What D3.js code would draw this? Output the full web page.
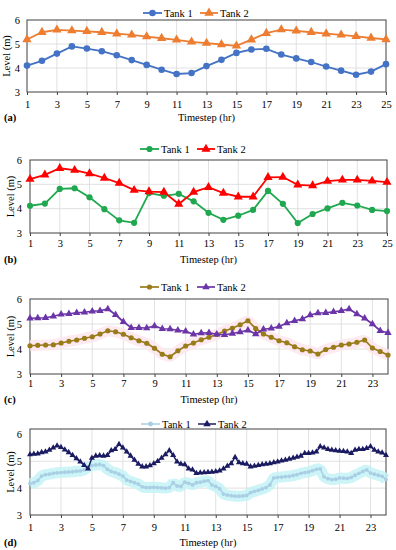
<!DOCTYPE html>
<html>
<head>
<meta charset="utf-8">
<script src="https://cdn.jsdelivr.net/npm/d3@7"></script>
<style>
  html, body { margin: 0; padding: 0; background: #fff; }
  svg { display: block; font-family: "Liberation Serif", "Times New Roman", serif; }
</style>
</head>
<body>
<div id="chart"></div>
<script>
// Tank levels (m).
// (a),(b): hourly, timestep 1..25; (c): half-hourly 1..24; (d): quarter-hourly 1..24.
var seriesNames = ['Tank 1', 'Tank 2'];

var tank1A = [4.10, 4.30, 4.60, 4.90, 4.81, 4.70, 4.53, 4.33, 4.13, 3.93, 3.75, 3.79, 4.08,
              4.34, 4.63, 4.77, 4.80, 4.56, 4.40, 4.25, 4.06, 3.89, 3.72, 3.85, 4.16];
var tank2A = [5.19, 5.49, 5.59, 5.56, 5.53, 5.49, 5.43, 5.38, 5.31, 5.24, 5.17, 5.09, 5.04,
              4.98, 4.92, 5.18, 5.45, 5.60, 5.55, 5.49, 5.43, 5.38, 5.32, 5.25, 5.19];

var tank1B = [4.12, 4.21, 4.81, 4.84, 4.47, 3.98, 3.52, 3.42, 4.64, 4.53, 4.61, 4.30, 3.83,
              3.54, 3.71, 3.95, 4.73, 4.20, 3.41, 3.78, 4.01, 4.24, 4.13, 3.95, 3.90];
var tank2B = [5.21, 5.39, 5.66, 5.58, 5.44, 5.26, 5.05, 4.76, 4.70, 4.68, 4.19, 4.68, 4.88,
              4.64, 4.49, 4.49, 5.29, 5.30, 4.98, 4.95, 5.13, 5.18, 5.18, 5.14, 5.09];

var tank1C = [4.13, 4.15, 4.16, 4.17, 4.24, 4.31, 4.36, 4.43, 4.49, 4.60, 4.73, 4.69, 4.59,
              4.45, 4.33, 4.23, 4.03, 3.79, 3.69, 3.93, 4.12, 4.24, 4.37, 4.47, 4.58, 4.72,
              4.83, 4.97, 5.13, 4.82, 4.60, 4.47, 4.33, 4.25, 4.09, 3.97, 3.92, 3.80, 3.98,
              4.07, 4.16, 4.20, 4.27, 4.36, 4.04, 3.90, 3.76];
var tank2C = [5.23, 5.24, 5.25, 5.31, 5.39, 5.41, 5.45, 5.47, 5.51, 5.53, 5.60, 5.37, 5.09,
              4.85, 4.85, 4.84, 4.92, 4.81, 4.80, 4.75, 4.71, 4.59, 4.64, 4.65, 4.59, 4.57,
              4.62, 4.68, 4.75, 4.60, 4.79, 4.83, 4.90, 5.04, 5.13, 5.20, 5.36, 5.44, 5.45,
              5.49, 5.53, 5.60, 5.40, 5.23, 5.00, 4.73, 4.65];

var tank1D = [4.17, 4.20, 4.28, 4.45, 4.50, 4.52, 4.55, 4.57, 4.58, 4.59, 4.60, 4.61,
              4.63, 4.64, 4.68, 4.78, 4.84, 4.86, 4.88, 4.84, 4.70, 4.62, 4.58, 4.52,
              4.45, 4.30, 4.25, 4.20, 4.15, 4.05, 4.02, 4.02, 4.03, 4.02, 4.01, 4.00,
              4.02, 4.20, 4.08, 4.06, 4.22, 4.18, 4.12, 4.20, 4.22, 4.26, 4.28, 4.12,
              4.06, 3.98, 3.78, 3.74, 3.72, 3.70, 3.70, 3.71, 3.73, 3.83, 3.88, 3.92,
              3.97, 4.02, 4.12, 4.38, 4.40, 4.41, 4.43, 4.44, 4.47, 4.50, 4.55, 4.58,
              4.60, 4.65, 4.70, 4.72, 4.42, 4.35, 4.32, 4.33, 4.38, 4.37, 4.36, 4.40,
              4.48, 4.55, 4.62, 4.68, 4.56, 4.52, 4.48, 4.44, 4.32];
var tank2D = [5.25, 5.27, 5.28, 5.33, 5.35, 5.42, 5.50, 5.58, 5.52, 5.43, 5.33, 5.22,
              5.10, 4.98, 4.85, 4.72, 5.12, 5.20, 5.21, 5.20, 5.22, 5.40, 5.45, 5.63,
              5.50, 5.35, 5.20, 5.05, 4.90, 4.80, 4.80, 4.84, 4.92, 5.00, 5.12, 5.25,
              5.40, 5.22, 4.98, 4.90, 4.88, 4.72, 4.68, 4.55, 4.57, 4.58, 4.59, 4.60,
              4.62, 4.65, 4.72, 4.82, 4.92, 5.15, 4.95, 4.92, 4.90, 4.80, 4.82, 4.85,
              4.88, 4.90, 4.92, 4.95, 4.98, 5.02, 5.05, 5.08, 5.12, 5.16, 5.20, 5.30,
              5.30, 5.32, 5.35, 5.55, 5.50, 5.45, 5.42, 5.40, 5.38, 5.37, 5.35, 5.30,
              5.42, 5.45, 5.45, 5.48, 5.55, 5.42, 5.35, 5.32, 5.22];

var xTicksHourly = [1, 3, 5, 7, 9, 11, 13, 15, 17, 19, 21, 23, 25];
var xTicksDaily  = [1, 3, 5, 7, 9, 11, 13, 15, 17, 19, 21, 23];
var yTicks = [3, 4, 5, 6];
var yGrid = [4, 5];

(function () {
    var W = 396, H = 550;
    var axisColor = '#404040';
    var gridColor = '#d9d9d9';
    var fs = 10.5;

    // Per-panel frame geometry and styling (pixel positions of the plot box).
    var panels = [
        { tag: '(a)', t1: tank1A, t2: tank2A, step: 1, xMax: 25, ticks: xTicksHourly, yMax: 6,
          left: 27, right: 386, top: 20, bottom: 92,
          legY: 13, legX: 143, tickY: 107.5, titleY: 121, yLabX: 6, yTickX: 20,
          c1: '#4472C4', c2: '#ED7D31', r: 3.3, tri: 38, lw: 1.8 },
        { tag: '(b)', t1: tank1B, t2: tank2B, step: 1, xMax: 25, ticks: xTicksHourly, yMax: 6,
          left: 30, right: 387, top: 160, bottom: 233,
          legY: 149, legX: 140, tickY: 246.5, titleY: 262.5, yLabX: 10, yTickX: 22,
          c1: '#1FA84F', c2: '#FF0000', r: 3.1, tri: 36, lw: 1.8 },
        { tag: '(c)', t1: tank1C, t2: tank2C, step: 0.5, xMax: 24, ticks: xTicksDaily, yMax: 6,
          left: 30, right: 388, top: 299, bottom: 374,
          legY: 287, legX: 140, tickY: 386.5, titleY: 402.5, yLabX: 10, yTickX: 22,
          c1: '#9A7B1A', c2: '#6B35A8', r: 2.6, tri: 24, lw: 1.7,
          glow1: '#fde6ef' },
        { tag: '(d)', t1: tank1D, t2: tank2D, step: 0.25, xMax: 24, ticks: xTicksDaily, yMax: 6.2,
          left: 30, right: 386, top: 429, bottom: 515,
          legY: 424, legX: 141, tickY: 531, titleY: 545.5, yLabX: 10, yTickX: 22,
          c1: '#A9CFE4', c2: '#1B1B62', r: 1.9, tri: 16, lw: 1.5,
          glow1: '#c4f2f6' }
    ];

    var svg = d3.select('#chart').append('svg')
        .attr('width', W).attr('height', H)
        .attr('viewBox', '0 0 ' + W + ' ' + H);

    svg.append('rect').attr('width', W).attr('height', H).attr('fill', '#fff');

    var tri = function (size) { return d3.symbol().type(d3.symbolTriangle).size(size)(); };

    panels.forEach(function (p) {
        var g = svg.append('g');
        var x = d3.scaleLinear().domain([1, p.xMax]).range([p.left, p.right]);
        var y = d3.scaleLinear().domain([3, p.yMax]).range([p.bottom, p.top]);

        var pts1 = p.t1.map(function (v, i) { return [1 + i * p.step, v]; });
        var pts2 = p.t2.map(function (v, i) { return [1 + i * p.step, v]; });

        // Gridlines
        g.selectAll('.vgrid').data(p.ticks.filter(function (t) { return t > 1 && t < p.xMax; }))
            .enter().append('line')
            .attr('x1', function (d) { return x(d); }).attr('x2', function (d) { return x(d); })
            .attr('y1', p.top).attr('y2', p.bottom)
            .attr('stroke', gridColor).attr('stroke-width', 0.8);
        g.selectAll('.hgrid').data(yGrid).enter().append('line')
            .attr('x1', p.left).attr('x2', p.right)
            .attr('y1', function (d) { return y(d); }).attr('y2', function (d) { return y(d); })
            .attr('stroke', gridColor).attr('stroke-width', 0.8);

        // Frame
        g.append('rect')
            .attr('x', p.left).attr('y', p.top)
            .attr('width', p.right - p.left).attr('height', p.bottom - p.top)
            .attr('fill', 'none').attr('stroke', axisColor).attr('stroke-width', 1);

        // X axis ticks and labels
        var xAxis = g.append('g')
            .attr('transform', 'translate(0,' + p.bottom + ')')
            .call(d3.axisBottom(x).tickValues(p.ticks).tickSize(3).tickPadding(0)
                  .tickFormat(d3.format('d')));
        xAxis.select('.domain').remove();
        xAxis.selectAll('line').attr('stroke', axisColor);
        xAxis.selectAll('text')
            .attr('y', p.tickY - p.bottom).attr('dy', 0)
            .attr('font-size', fs).attr('fill', '#000')
            .attr('font-family', '"Liberation Serif", "Times New Roman", serif');

        // Y tick labels
        g.selectAll('.ylab').data(yTicks).enter().append('text')
            .attr('x', p.yTickX).attr('y', function (d) { return y(d) + 3.5; })
            .attr('text-anchor', 'end').attr('font-size', fs)
            .text(function (d) { return d; });

        // Axis titles and panel tag
        g.append('text')
            .attr('transform', 'translate(' + (p.yLabX + 3.5) + ',' + ((p.top + p.bottom) / 2) + ') rotate(-90)')
            .attr('text-anchor', 'middle').attr('font-size', fs)
            .text('Level (m)');
        g.append('text')
            .attr('x', (p.left + p.right) / 2).attr('y', p.titleY)
            .attr('text-anchor', 'middle').attr('font-size', fs)
            .text('Timestep (hr)');
        g.append('text')
            .attr('x', 4).attr('y', p.titleY)
            .attr('font-size', fs).attr('font-weight', 'bold')
            .text(p.tag);

        var line = d3.line()
            .x(function (d) { return x(d[0]); })
            .y(function (d) { return y(d[1]); });

        // Soft highlight behind Tank 1 in (c) and (d)
        if (p.glow1) {
            g.append('path').datum(pts1)
                .attr('d', line).attr('fill', 'none')
                .attr('stroke', p.glow1).attr('stroke-width', 11)
                .attr('stroke-linejoin', 'bevel').attr('opacity', 0.85);
        }

        // Tank 1: circles
        g.append('path').datum(pts1)
            .attr('d', line).attr('fill', 'none')
            .attr('stroke', p.c1).attr('stroke-width', p.lw);
        g.selectAll('.m1').data(pts1).enter().append('circle')
            .attr('cx', function (d) { return x(d[0]); })
            .attr('cy', function (d) { return y(d[1]); })
            .attr('r', p.r).attr('fill', p.c1);

        // Tank 2: triangles
        g.append('path').datum(pts2)
            .attr('d', line).attr('fill', 'none')
            .attr('stroke', p.c2).attr('stroke-width', p.lw);
        g.selectAll('.m2').data(pts2).enter().append('path')
            .attr('transform', function (d) { return 'translate(' + x(d[0]) + ',' + y(d[1]) + ')'; })
            .attr('d', tri(p.tri)).attr('fill', p.c2);

        // Legend
        var lg = g.append('g').attr('transform', 'translate(' + p.legX + ',' + p.legY + ')');
        lg.append('line').attr('x1', 0).attr('x2', 19).attr('stroke', p.c1).attr('stroke-width', p.lw);
        lg.append('circle').attr('cx', 9.5).attr('r', Math.max(p.r, 2.4)).attr('fill', p.c1);
        lg.append('text').attr('x', 21).attr('y', 3.5).attr('font-size', fs).text(seriesNames[0]);
        lg.append('line').attr('x1', 57).attr('x2', 75).attr('stroke', p.c2).attr('stroke-width', p.lw);
        lg.append('path').attr('transform', 'translate(66,0)').attr('d', tri(Math.max(p.tri, 24))).attr('fill', p.c2);
        lg.append('text').attr('x', 77).attr('y', 3.5).attr('font-size', fs).text(seriesNames[1]);
    });
})();
</script>
</body>
</html>
